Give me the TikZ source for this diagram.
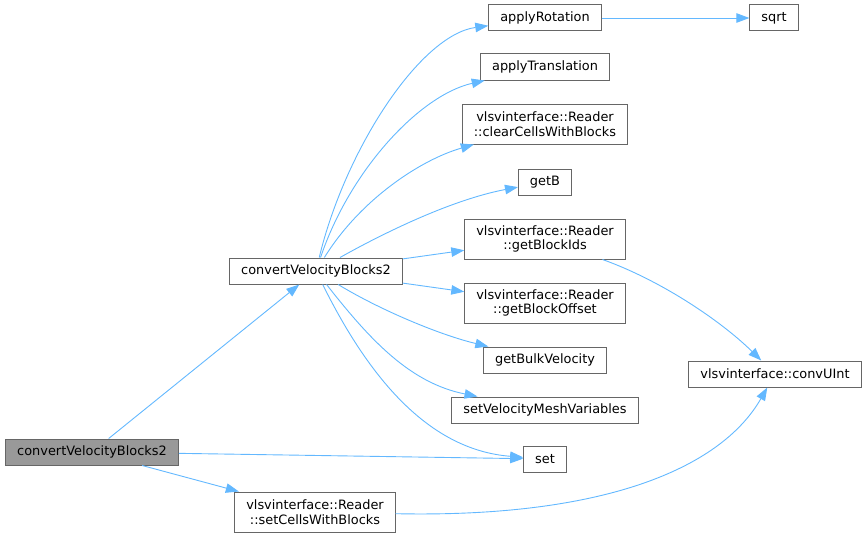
\documentclass[tikz,border=0pt]{standalone}
\usepackage{fontspec}
\setmainfont{DejaVu Sans}
\usepackage{tikz}
\usetikzlibrary{arrows.meta,positioning}
\definecolor{edgeblue}{RGB}{99,184,255}
\definecolor{boxgray}{RGB}{102,102,102}
\definecolor{mainfill}{RGB}{153,153,153}

\begin{document}
\begin{tikzpicture}[x=1pt, y=-1pt,
    fn/.style={draw=boxgray, fill=white, line width=1pt, inner xsep=11.5pt, inner ysep=2pt,
               minimum height=26pt, align=center, font=\fontsize{12.9}{14.5}\selectfont},
    fntwo/.style={fn, minimum height=40pt},
    call/.style={draw=edgeblue, line width=0.9pt, -{Triangle[length=13pt,width=9.5pt]}}]
    \useasboundingbox (0,0) rectangle (867,535);

    % Caller
    \node[fn, fill=mainfill] (main) at (92,452) {convertVelocityBlocks2};

    % Callees
    \node[fn] (cvb) at (316,271) {convertVelocityBlocks2};
    \node[fn] (rot) at (545,18) {applyRotation};
    \node[fn] (sqrt) at (774,18) {sqrt};
    \node[fn] (trans) at (545,67) {applyTranslation};
    \node[fntwo] (clear) at (545,124) {vlsvinterface::Reader\\::clearCellsWithBlocks};
    \node[fn] (getb) at (545,182) {getB};
    \node[fntwo] (ids) at (545,239) {vlsvinterface::Reader\\::getBlockIds};
    \node[fntwo] (offset) at (545,303) {vlsvinterface::Reader\\::getBlockOffset};
    \node[fn] (bulk) at (545,360) {getBulkVelocity};
    \node[fn] (mesh) at (545,410) {setVelocityMeshVariables};
    \node[fn] (set) at (545,459) {set};
    \node[fntwo] (cells) at (315,512) {vlsvinterface::Reader\\::setCellsWithBlocks};
    \node[fn] (conv) at (775,374) {vlsvinterface::convUInt};

    % Calls from the caller
    \draw[call] (main) -- (cvb);
    \draw[call] (main) -- (set);
    \draw[call] (main) -- (cells);

    % Calls from convertVelocityBlocks2
    \draw[call] (cvb) .. controls (345,150) and (420,35) .. (rot);
    \draw[call] (cvb) .. controls (350,170) and (420,95) .. (trans);
    \draw[call] (cvb) .. controls (360,200) and (420,160) .. (clear);
    \draw[call] (cvb) .. controls (380,235) and (450,200) .. (getb);
    \draw[call] (cvb) -- (ids);
    \draw[call] (cvb) -- (offset);
    \draw[call] (cvb) .. controls (380,310) and (440,335) .. (bulk);
    \draw[call] (cvb) .. controls (370,340) and (410,383) .. (mesh);
    \draw[call] (cvb) .. controls (370,380) and (430,450) .. (set);

    % Further calls
    \draw[call] (rot) -- (sqrt);
    \draw[call] (ids) .. controls (660,280) and (720,320) .. (conv);
    \draw[call] (cells) .. controls (600,518) and (720,470) .. (conv);

\end{tikzpicture}
\end{document}
